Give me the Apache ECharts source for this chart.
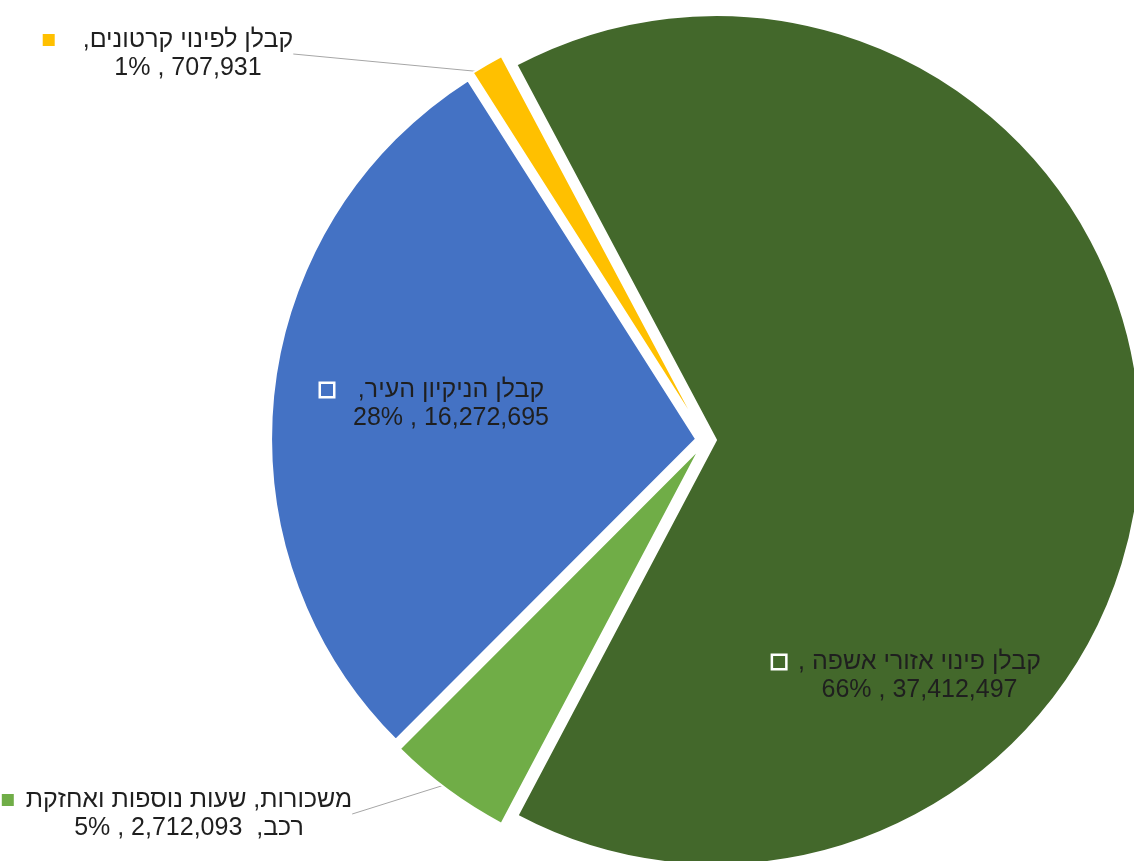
<!DOCTYPE html>
<html><head><meta charset="utf-8">
<script src="https://cdn.jsdelivr.net/npm/echarts@6/dist/echarts.min.js"></script>
<style>html,body{margin:0;padding:0;background:#fff}#chart{width:1134px;height:861px}#chart canvas{direction:rtl}</style>
</head><body><div id="chart"></div>
<script>
// ---- data ----
const categories = ['קבלן פינוי אזורי אשפה ', 'משכורות, שעות נוספות ואחזקת רכב', 'קבלן הניקיון העיר', 'קבלן לפינוי קרטונים'];
const values = [37412497, 2712093, 16272695, 707931];

// ---- styling / layout ----
const colors = ['#43682B', '#70AD47', '#4472C4', '#FFC000'];
const labelPositions = ['inside', 'outside', 'inside', 'outside'];
const labelAnchors = [[907, 676], [177, 814], [435, 404], [168, 54]];
const keyGaps = [13, 12, 20, 28];
const FONT = 'Liberation Sans, Arial, sans-serif';

function fmt(p) {
  const num = p.value.toLocaleString('en-US');
  let l1, pre = '';
  if (p.name.length > 26) {
    const i = p.name.lastIndexOf(' ');
    l1 = p.name.slice(0, i);
    pre = p.name.slice(i + 1) + ',  ';
  } else {
    l1 = p.name + ',';
  }
  return '{sq|}{gap|}{t|' + l1 + '}\n{pad|}{t|' + pre + num + ' , ' + p.percent + '%}';
}

const pieData = categories.map((c, i) => ({
  name: c, value: values[i], selected: true, itemStyle: { color: colors[i] }
}));

const labelData = categories.map((c, i) => ({
  name: c,
  value: values[i],
  label: {
    position: labelPositions[i],
    rich: {
      sq: { backgroundColor: colors[i] },
      gap: { width: keyGaps[i] },
      pad: { width: keyGaps[i] + 12 }
    }
  },
  labelLine: { show: labelPositions[i] === 'outside' }
}));

const common = {
  type: 'pie',
  center: [706, 440],
  radius: 425,
  startAngle: 118,
  clockwise: true,
  percentPrecision: 0,
  avoidLabelOverlap: false,
  emphasis: { disabled: true }
};

const chart = echarts.init(document.getElementById('chart'), null, { renderer: 'canvas' });
chart.setOption({
  animation: false,
  series: [
    Object.assign({}, common, {
      selectedMode: 'multiple',
      selectedOffset: 10,
      itemStyle: { borderColor: '#fff', borderWidth: 2 },
      select: { itemStyle: { borderColor: '#fff', borderWidth: 2 } },
      label: { show: false },
      labelLine: { show: false },
      data: pieData
    }),
    Object.assign({}, common, {
      silent: true,
      selectedMode: false,
      itemStyle: { color: 'rgba(0,0,0,0)', borderWidth: 0 },
      label: {
        formatter: fmt,
        align: 'center',
        color: '#1f1f1f',
        fontFamily: FONT,
        fontSize: 25,
        lineHeight: 28,
        rich: {
          t: { fontFamily: FONT, fontSize: 25, lineHeight: 28, color: '#1f1f1f' },
          sq: { width: 12, height: 12, borderColor: '#fff', borderWidth: 2.5, align: 'left' },
          gap: { width: 13, align: 'left' },
          pad: { width: 25, align: 'left' }
        }
      },
      labelLine: { lineStyle: { color: '#a6a6a6', width: 1 }, length: 10, length2: 0 },
      labelLayout: function (p) {
        const a = labelAnchors[p.dataIndex];
        return { x: a[0], y: a[1], align: 'center', verticalAlign: 'middle' };
      },
      data: labelData
    })
  ]
});
</script></body></html>
